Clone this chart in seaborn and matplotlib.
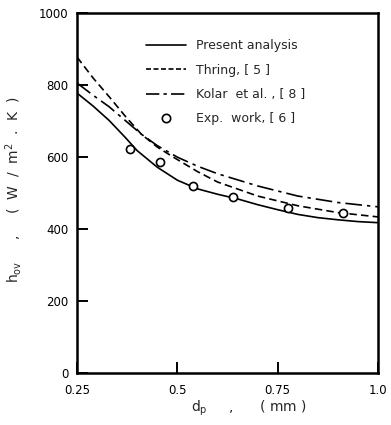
import matplotlib
matplotlib.use("Agg")
import matplotlib.pyplot as plt
import seaborn as sns
import pandas as pd
from matplotlib.lines import Line2D

# ---- data ----
d_present = [0.25, 0.29, 0.33, 0.37, 0.40, 0.45, 0.50, 0.55, 0.60, 0.65, 0.70, 0.75, 0.80, 0.85, 0.90, 0.95, 1.00]
present = [778, 742, 702, 655, 618, 572, 536, 512, 497, 484, 468, 454, 441, 432, 426, 421, 418]

d_thring = [0.25, 0.29, 0.33, 0.37, 0.41, 0.45, 0.49, 0.55, 0.60, 0.70, 0.80, 0.90, 1.00]
thring = [878, 820, 768, 714, 664, 628, 600, 560, 531, 492, 465, 446, 434]

d_kolar = [0.25, 0.29, 0.33, 0.37, 0.41, 0.45, 0.50, 0.55, 0.60, 0.70, 0.80, 0.90, 1.00]
kolar = [806, 772, 740, 702, 664, 632, 600, 575, 554, 520, 492, 474, 462]

d_exp = [0.382, 0.457, 0.539, 0.639, 0.776, 0.913]
h_exp = [622, 586, 519, 489, 458, 445]

x_ticks = [0.25, 0.5, 0.75, 1.0]
x_ticklabels = ["0.25", "0.5", "0.75", "1.0"]
y_ticks = [0, 200, 400, 600, 800, 1000]

labels = ["Present analysis", "Thring, [ 5 ]", "Kolar  et al. , [ 8 ]", "Exp.  work, [ 6 ]"]

sns.set_style("ticks")
plt.rcParams["font.family"] = ["DejaVu Sans"]

fig = plt.figure(figsize=(3.91, 4.25), dpi=100)
ax = fig.add_axes([0.197, 0.122, 0.770, 0.847])

lw = 1.2
sns.lineplot(x=d_present, y=present, ax=ax, color="black", lw=lw)
sns.lineplot(x=d_thring, y=thring, ax=ax, color="black", lw=lw,
             linestyle=(0, (4.5, 2.5)))
sns.lineplot(x=d_kolar, y=kolar, ax=ax, color="black", lw=lw,
             linestyle=(0, (10, 3, 2, 3)))
sns.scatterplot(x=d_exp, y=h_exp, ax=ax, s=34, facecolor="white", edgecolor="black",
                linewidth=1.2, zorder=5)

ax.set_xlim(0.25, 1.0)
ax.set_ylim(0, 1000)
ax.set_xticks(x_ticks)
ax.set_xticklabels(x_ticklabels)
ax.set_yticks(y_ticks)
ax.tick_params(direction="in", length=8, width=1.4, labelsize=8.5, colors="black")
ax.tick_params(axis="x", pad=8)
ax.tick_params(axis="y", pad=6)

for sp in ax.spines.values():
    sp.set_visible(True)
    sp.set_linewidth(1.8)
    sp.set_color("black")

ax.set_xlabel(r"$\mathregular{d_p}$     ,      ( mm )", fontsize=10)
ax.set_ylabel(r"$\mathregular{h_{ov}}$     ,     (  W  /  m$\mathregular{^2}$  .  K  )", fontsize=10)
ax.xaxis.set_label_coords(0.57, -0.07)
ax.yaxis.set_label_coords(-0.175, 0.51)

handles = [
    Line2D([], [], color="black", lw=lw),
    Line2D([], [], color="black", lw=lw, linestyle=(0, (3, 1.5))),
    Line2D([], [], color="black", lw=lw, linestyle=(0, (8, 2.5, 2, 2.5))),
    Line2D([], [], color="black", lw=0, marker="o", markersize=6,
           markerfacecolor="white", markeredgewidth=1.2),
]
ax.legend(handles, labels, loc="upper left", bbox_to_anchor=(0.23, 0.927),
          frameon=False, fontsize=9, handlelength=3.2, handletextpad=0.8,
          labelspacing=0.9, borderpad=0, borderaxespad=0)

fig.savefig("out.png", dpi=100)
